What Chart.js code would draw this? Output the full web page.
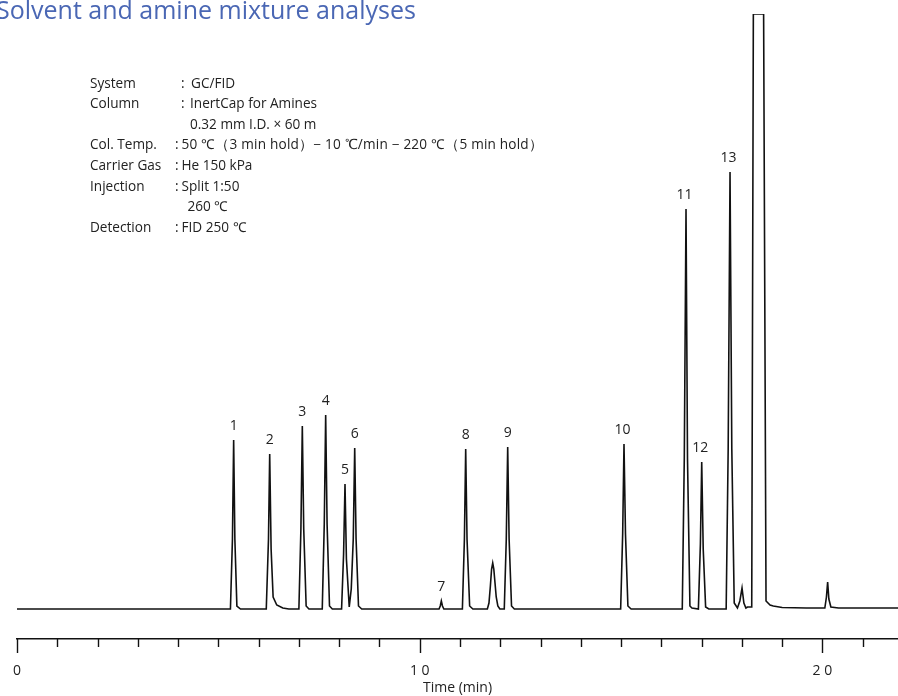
<!DOCTYPE html>
<html>
<head>
<meta charset="utf-8">
<script src="https://cdn.jsdelivr.net/npm/chart.js@4.4.1/dist/chart.umd.min.js"></script>
<style>
  html, body { margin: 0; padding: 0; background: #fff; }
  #wrap { position: relative; width: 898px; height: 696px; overflow: hidden; }
  canvas { position: absolute; left: 0; top: 0; }
  #title { position: absolute; left: -4px; top: -8px; font-family: "Open Sans", sans-serif; font-size: 25px; color: #4a67b4; white-space: nowrap; }
  .info { position: absolute; font-family: "Open Sans", sans-serif; font-size: 13.6px; color: #222; white-space: nowrap; line-height: 20px; }
</style>
</head>
<body>
<div id="wrap">
  <canvas id="c" width="898" height="696"></canvas>
  <div id="title">Solvent and amine mixture analyses</div>
  <div id="info"></div>
</div>
<script>
// ---- data ----
// time (min) of each trace point
const traceTime = [
  0, 5.30, 5.35, 5.38, 5.41, 5.46, 5.55,
  6.19, 6.245, 6.275, 6.31, 6.36, 6.45, 6.60, 6.75,
  7.00, 7.05, 7.085, 7.12, 7.18, 7.25,
  7.58, 7.63, 7.665, 7.70, 7.76, 7.83,
  8.06, 8.11, 8.145, 8.18, 8.25, 8.30, 8.35, 8.386, 8.42, 8.48, 8.56,
  10.48, 10.51, 10.537, 10.565, 10.60,
  11.06, 11.11, 11.142, 11.175, 11.24, 11.32,
  11.68, 11.72, 11.755, 11.785, 11.813, 11.84, 11.87, 11.90, 11.94, 11.99,
  12.10, 12.15, 12.185, 12.22, 12.28, 12.35,
  14.99, 15.04, 15.073, 15.11, 15.17, 15.25,
  16.52, 16.57, 16.613, 16.65, 16.71, 16.76,
  16.92, 16.97, 17.003, 17.04, 17.10, 17.18,
  17.61, 17.66, 17.706, 17.75, 17.81, 17.89,
  17.95, 18.004, 18.05, 18.10, 18.14,
  18.245, 18.285, 18.54, 18.60, 18.70, 18.78, 19.00, 19.60,
  20.06, 20.10, 20.13, 20.16, 20.21, 20.40, 21.877
];
// detector signal (arbitrary units) at each trace point; 595 = saturated
const traceSignal = [
  0, 0, 70, 169, 70, 3, 0,
  0, 70, 155, 60, 12, 4, 1, 0,
  0, 80, 183, 80, 3, 0,
  0, 85, 194, 85, 3, 0,
  0, 55, 125, 50, 2, 20, 70, 161, 70, 3, 0,
  0, 3, 8, 3, 0,
  0, 70, 160, 70, 3, 0,
  0, 6, 23, 40, 46, 40, 26, 12, 3, 0,
  0, 70, 162, 70, 3, 0,
  0, 75, 165, 75, 3, 0,
  0, 150, 400, 150, 3, 1,
  0, 65, 147, 60, 2, 0,
  0, 160, 437, 160, 6, 1,
  8, 21, 6, 1, 2,
  2, 595, 595, 8, 4, 3, 1.5, 1,
  1, 12, 27, 10, 2, 1, 1
];
// labelled peaks
const peakNumbers = ['1','2','3','4','5','6','7','8','9','10','11','12','13'];
const peakTimes   = [5.38, 6.275, 7.085, 7.665, 8.145, 8.386, 10.537, 11.142, 12.185, 15.073, 16.613, 17.003, 17.706];
const peakHeights = [169, 155, 183, 194, 125, 161, 8, 160, 162, 165, 400, 147, 437];
// axis ticks
const majorTicks = [0, 10, 20];
const majorTickLabels = ['0', '1 0', '2 0'];
const xAxisTitle = 'Time (min)';
// method conditions
const infoLabels = ['System', 'Column', '', 'Col. Temp.', 'Carrier Gas', 'Injection', '', 'Detection'];
const infoColons = ['：', '：', '', ':', ':', ':', '', ':'];
const infoValues = ['GC/FID', 'InertCap for Amines', '0.32 mm I.D. × 60 m',
  '50 ℃（3 min hold）− 10 ℃/min − 220 ℃（5 min hold）', 'He 150 kPa', 'Split 1:50', '260 ℃', 'FID 250 ℃'];

// ---- info block ----
(function () {
  const info = document.getElementById('info');
  const valueX = [191, 190, 190, 181.5, 181.5, 181.5, 187.5, 181.5];
  for (let i = 0; i < infoLabels.length; i++) {
    const top = 72.5 + i * 20.66;
    const mk = (txt, left, ls) => {
      const d = document.createElement('div');
      d.className = 'info';
      d.style.left = left + 'px';
      d.style.top = top + 'px';
      if (ls) d.style.letterSpacing = ls;
      d.textContent = txt;
      info.appendChild(d);
    };
    if (infoLabels[i]) mk(infoLabels[i], 90);
    if (infoColons[i] === '：') mk(':', 181);
    else if (infoColons[i]) mk(':', 175);
    mk(infoValues[i], valueX[i], i === 3 ? '0.2px' : null);
  }
})();

const points = traceTime.map((t, i) => ({ x: t, y: traceSignal[i] }));

const tickPlugin = {
  id: 'ticksAndLabels',
  afterDraw(chart) {
    const ctx = chart.ctx;
    const xs = chart.scales.x;
    const axisY = chart.chartArea.bottom;
    ctx.save();
    ctx.strokeStyle = '#111';
    ctx.lineWidth = 1.4;
    for (let v = 0; v <= Math.floor(xs.max); v++) {
      const px = Math.round(xs.getPixelForValue(v)) + 0.5;
      const len = majorTicks.includes(v) ? 14 : 8;
      ctx.beginPath();
      ctx.moveTo(px, axisY);
      ctx.lineTo(px, axisY + len);
      ctx.stroke();
    }
    ctx.restore();
  },
  afterDatasetsDraw(chart) {
    const ctx = chart.ctx;
    const xs = chart.scales.x, ys = chart.scales.y;
    ctx.save();
    ctx.font = '14px "Open Sans", sans-serif';
    ctx.fillStyle = '#222';
    ctx.textAlign = 'center';
    ctx.textBaseline = 'middle';
    peakNumbers.forEach((n, i) => {
      const x = xs.getPixelForValue(peakTimes[i]);
      const y = ys.getPixelForValue(peakHeights[i]) - 14;
      ctx.fillText(n, x - (n.length > 1 ? 1.5 : 0), y);
    });
    ctx.restore();
  }
};

new Chart(document.getElementById('c'), {
  type: 'line',
  data: {
    datasets: [{
      data: points,
      borderColor: '#111',
      borderWidth: 1.6,
      pointRadius: 0,
      tension: 0,
      fill: false
    }]
  },
  options: {
    responsive: false,
    animation: false,
    devicePixelRatio: 1,
    layout: { padding: { top: 14, left: 17, right: 0, bottom: 0 } },
    plugins: { legend: { display: false }, tooltip: { enabled: false } },
    scales: {
      x: {
        type: 'linear',
        position: 'bottom',
        min: 0,
        max: 21.877,
        afterFit(scale) { scale.height = 57; },
        border: { display: true, color: '#111', width: 1.4 },
        grid: { display: true, drawOnChartArea: false, drawTicks: true, tickLength: 14, tickColor: 'rgba(0,0,0,0)' },
        ticks: {
          stepSize: 1,
          autoSkip: false,
          maxRotation: 0,
          includeBounds: false,
          padding: 10,
          color: '#222',
          font: { family: '"Open Sans", sans-serif', size: 14 },
          callback(v) {
            const k = majorTicks.indexOf(v);
            return k >= 0 ? majorTickLabels[k] : '';
          }
        },
        title: {
          display: true,
          text: xAxisTitle,
          color: '#222',
          font: { family: '"Open Sans", sans-serif', size: 14 },
          padding: { top: 0, bottom: 0 }
        }
      },
      y: {
        display: false,
        min: -30,
        max: 595
      }
    }
  },
  plugins: [tickPlugin]
});
</script>
</body>
</html>
